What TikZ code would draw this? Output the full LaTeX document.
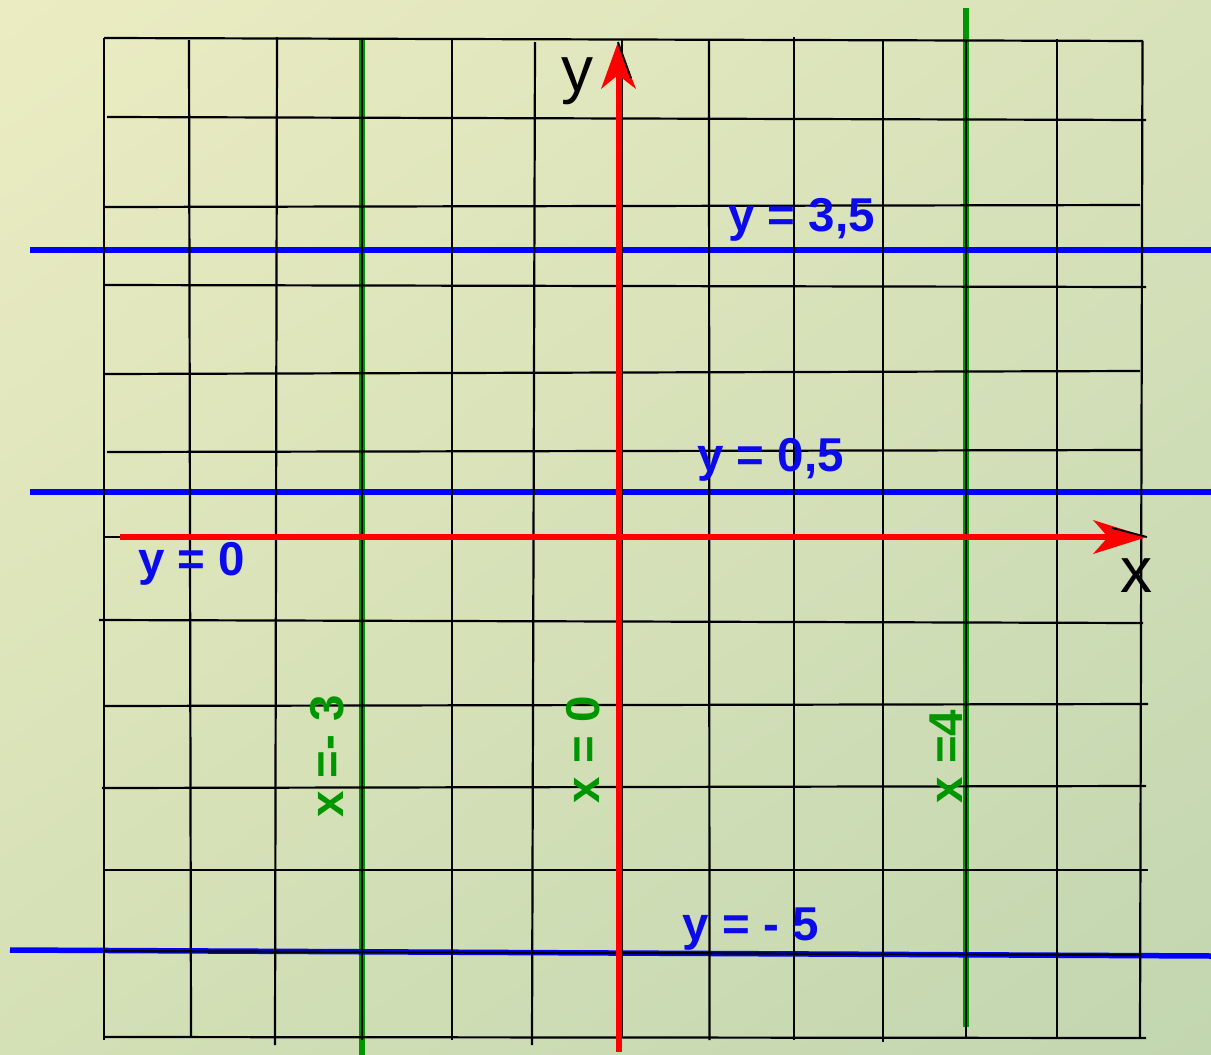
\documentclass[tikz,border=0pt]{standalone}
\usepackage{fontspec}
\setmainfont{Liberation Sans}
\usetikzlibrary{shadings}
\definecolor{bgA}{RGB}{236,236,194}
\definecolor{bgB}{RGB}{216,226,186}
\definecolor{bgC}{RGB}{212,224,182}
\definecolor{bgD}{RGB}{194,214,176}
\definecolor{lineblue}{RGB}{0,0,255}
\definecolor{lblue}{RGB}{10,10,235}
\definecolor{linegreen}{RGB}{0,150,0}
\definecolor{lgreen}{RGB}{0,150,0}
\definecolor{axisred}{RGB}{255,0,0}
\begin{document}
\begin{tikzpicture}[x=1pt,y=-1pt,
  gridline/.style={line width=2.2pt, black},
  blueline/.style={line width=5.5pt, lineblue},
  greenline/.style={line width=5.5pt, linegreen},
  axisline/.style={line width=6.5pt, axisred},
  tipedge/.style={line width=1.8pt, black},
  blabel/.style={text=lblue, font=\fontsize{47.5}{50}\selectfont\bfseries, inner sep=0pt, anchor=base},
  glabel/.style={text=lgreen, font=\fontsize{47.5}{50}\selectfont\bfseries, inner sep=0pt, anchor=base, rotate=90},
  axlabel/.style={text=black, font=\fontsize{64}{70}\selectfont, inner sep=0pt, anchor=base}
]
\useasboundingbox (0,0) rectangle (1211,1055);
\shade[shading=bilinear interpolation, upper left=bgA, upper right=bgB, lower left=bgC, lower right=bgD] (0,0) rectangle (1211,1055);

% green lines x = const
\draw[greenline] (362,40) -- (362,1055);
\draw[greenline] (966,8) -- (966,1027);

% blue lines y = const
\draw[blueline] (30,250) -- (1211,250);
\draw[blueline] (30,492) -- (1211,492);
\draw[blueline] (10,950) -- (1211,956);

% grid: horizontal
\foreach \xa/\ya/\xb/\yb in {104/38/1143/41, 107/117/1146/120, 105/207/1140/205,
  105/285/1146/287, 105/374/1140/371, 107/452/1142/450, 105/537/122/537,
  99/620/1143/623, 105/706/1148/704, 102/788/1146/786, 105/870/1148/870,
  105/951/1140/955, 105/1037/1146/1038}
  \draw[gridline] (\xa,\ya) -- (\xb,\yb);
% grid: vertical
\foreach \xa/\ya/\xb/\yb in {104/38/104/1040, 189/40/191/1037, 277/37/275/1045,
  362/40/362/1040, 452/40/452/1040, 535/42/532/1045, 622/40/622/1038,
  709/40/709.5/1040, 794/37/794/1040, 883/40/883/1042, 966/40/966/1038,
  1057/39/1057/1038, 1142.5/41/1140/1038}
  \draw[gridline] (\xa,\ya) -- (\xb,\yb);

% axes
\coordinate (ybot) at (619,1052);
\coordinate (ytip) at (618,42);
\coordinate (xleft) at (120,537);
\coordinate (xtip) at (1147,537);
\draw[axisline] (ybot) -- (619,74);
\fill[axisred] (ytip) -- (636,89) -- (618,75) -- (601,89) -- cycle;
\draw[tipedge] (ytip) -- (631,78);
\draw[axisline] (xleft) -- (1109,537);
\fill[axisred] (xtip) -- (1093,554) -- (1108,537) -- (1093,520) -- cycle;
\draw[tipedge] (1112,528) -- (xtip);

% labels
\node[axlabel] (ylab) at (577.5,91) {y};
\node[axlabel] (xlab) at (1136.5,592) {x};
\node[blabel] (l35) at (801.5,231) {y = 3,5};
\node[blabel] (l05) at (770.5,471) {y = 0,5};
\node[blabel] (l0) at (191.5,575) {y = 0};
\node[blabel] (lm5) at (750.5,940) {y = - 5};
\node[glabel] (xm3) at (343,756.5) {x =- 3};
\node[glabel] (x0) at (599,750) {x = 0};
\node[glabel] (x4) at (962,756.5) {x =4};
\end{tikzpicture}
\end{document}
